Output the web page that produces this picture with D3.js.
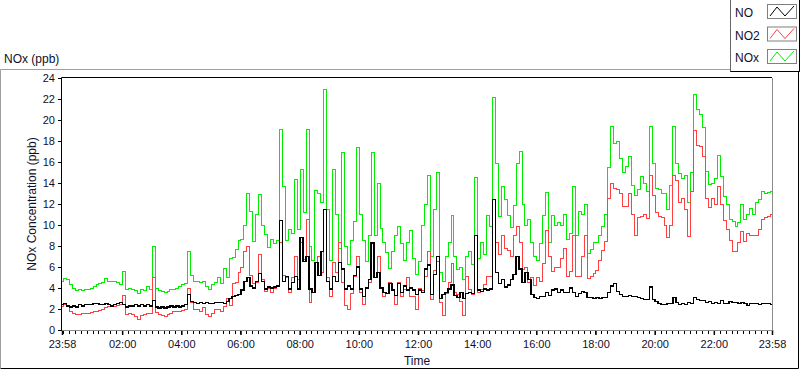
<!DOCTYPE html>
<html>
<head>
<meta charset="utf-8">
<script src="https://cdn.jsdelivr.net/npm/d3@7"></script>
<style>
  body { margin: 0; background: #fff; }
  svg { display: block; font-family: "Liberation Sans", Arial, sans-serif; }
  .tick text { fill: #10102a; }
</style>
</head>
<body>
<div id="chart"></div>
<script>
// readings are every 6 minutes, starting 23:58
var stepMinutes = 6;

var NO = [
  2.4,2.5,2.3,2.2,2.3,2.2,2.4,2.3,2.4,2.4,
  2.4,2.5,2.5,2.4,2.4,2.5,2.4,2.3,2.4,2.5,
  2.6,2.4,2.2,2.3,2.3,2.4,2.3,2.4,2.3,2.4,
  2.3,2.8,2.2,2.1,2.2,2.1,2.2,2.3,2.2,2.3,
  2.2,2.3,2.4,3.4,2.7,2.6,2.5,2.6,2.5,2.6,
  2.5,2.5,2.6,2.6,2.6,2.5,2.7,3.0,3.2,3.3,
  3.4,3.8,4.6,5.0,4.2,4.0,4.6,5.4,4.6,3.9,
  4.1,4.0,4.1,4.2,10.4,4.6,5.1,3.9,4.5,5.1,
  3.9,8.8,6.5,7.0,3.9,3.6,6.4,5.2,7.5,11.5,
  4.6,3.9,5.1,4.6,6.4,5.8,3.9,4.2,3.9,5.2,
  6.0,3.9,3.2,4.0,4.8,8.3,5.0,5.5,4.0,3.6,
  3.5,4.4,3.8,3.3,4.4,3.6,4.2,3.8,4.0,3.8,
  3.4,3.8,3.6,5.8,6.2,3.4,5.3,7.0,3.0,3.4,
  3.6,3.9,4.3,3.3,3.1,3.6,3.0,3.5,3.6,3.5,
  9.0,3.8,3.7,3.9,3.8,3.9,12.4,5.5,4.4,4.8,
  4.1,4.3,4.8,5.3,7.0,5.8,4.5,5.5,4.8,3.4,
  3.1,3.0,3.2,3.2,3.6,3.3,3.8,3.9,3.6,3.8,
  3.6,3.6,4.0,3.6,3.2,3.5,3.7,3.6,3.1,3.1,
  3.0,3.1,3.0,3.1,3.1,3.6,4.2,4.4,3.7,3.4,
  3.2,3.2,3.3,3.2,3.2,3.1,3.0,2.9,2.9,4.1,
  2.9,2.7,2.5,2.45,2.45,2.5,2.5,3.1,2.6,2.45,
  2.5,2.45,2.6,2.5,3.1,2.9,2.8,2.8,2.6,2.7,
  2.5,2.6,2.5,2.8,2.5,2.5,2.7,2.6,2.6,2.5,
  2.6,2.5,2.35,2.5,2.5,2.5,2.4,2.5,2.5,2.55,
  2.45
];

var NO2 = [
  2.2,2.4,2.2,1.8,1.6,1.5,1.5,1.6,1.6,1.6,
  1.7,1.8,1.8,1.9,2.0,2.1,2.2,2.3,2.2,2.3,
  2.4,3.3,1.5,1.6,1.5,1.3,1.0,1.4,1.5,1.6,
  1.6,5.0,1.7,1.5,1.4,1.3,1.5,1.6,1.8,1.8,
  1.8,1.9,2.0,4.0,2.6,2.0,2.0,1.8,2.1,1.5,
  1.3,1.6,2.0,2.0,1.8,2.2,3.0,2.3,4.4,4.5,
  5.5,6.0,7.5,8.0,5.2,4.4,4.5,7.2,4.8,3.7,
  4.0,3.6,4.0,4.2,8.3,5.2,5.0,3.6,5.0,7.0,
  4.8,8.3,6.7,10.5,2.6,3.6,6.4,7.0,5.5,11.5,
  5.0,3.2,6.4,5.5,8.3,4.5,2.3,2.0,3.5,5.1,
  7.0,3.6,2.4,4.0,4.5,8.3,5.0,7.0,4.0,3.2,
  3.5,4.5,3.9,2.4,4.5,3.2,3.9,5.0,3.2,3.2,
  2.0,4.0,3.8,5.1,7.5,2.9,5.7,6.5,2.6,1.4,
  3.5,4.5,6.3,3.6,3.4,2.7,1.4,5.1,3.9,3.4,
  9.0,3.6,3.9,4.3,5.1,5.1,12.4,8.3,7.2,9.0,
  7.8,7.6,7.0,9.0,9.9,8.3,5.8,6.0,4.5,5.0,
  4.2,5.0,4.6,6.3,9.5,7.0,5.6,6.0,6.0,6.8,
  7.8,5.1,5.6,9.0,5.1,5.1,7.0,9.0,4.9,5.1,
  5.4,5.7,6.6,7.6,8.4,12.5,14.0,13.5,13.4,13.0,
  11.8,11.8,13.0,11.0,9.0,10.7,10.8,11.0,10.6,14.7,
  12.8,11.2,10.8,10.7,10.0,8.8,10.0,14.7,14.2,12.1,
  12.5,11.5,8.9,13.2,19.0,17.6,17.5,16.5,12.5,11.7,
  12.5,12.0,13.7,12.0,10.4,9.6,8.5,7.5,7.5,8.3,
  9.4,8.4,9.2,9.0,9.0,9.0,9.6,10.5,10.7,10.8,
  11.0
];

var NOx = [
  4.6,4.9,4.8,4.3,4.0,3.8,3.9,3.8,3.9,3.9,
  4.0,4.1,4.3,4.4,4.5,4.9,4.6,4.6,4.6,4.5,
  4.3,5.6,3.9,4.0,3.9,3.8,3.5,3.9,3.8,4.1,
  3.9,8.0,4.0,3.8,3.7,3.6,3.7,3.9,3.9,4.0,
  4.1,4.3,4.4,7.5,5.2,4.6,4.6,4.5,4.6,4.1,
  3.9,4.3,4.5,5.0,4.4,5.9,5.0,6.8,6.9,7.7,
  8.5,8.6,10.0,13.0,11.3,8.4,11.0,12.9,10.0,9.1,
  7.9,8.6,8.2,8.5,19.1,13.7,8.5,9.6,9.2,14.3,
  9.6,15.3,11.2,19.1,8.0,6.6,13.3,13.0,12.1,22.9,
  11.5,6.6,15.3,11.0,7.8,16.9,8.0,6.2,8.5,10.3,
  17.4,11.0,8.5,6.5,9.0,16.9,9.0,14.0,9.7,8.3,
  7.4,5.9,7.5,9.0,9.9,8.2,6.6,8.3,9.5,6.8,
  5.3,6.5,10.0,12.0,14.7,7.0,11.5,15.0,5.5,4.6,
  7.0,8.3,10.9,7.0,5.8,6.0,4.8,7.0,7.5,6.2,
  14.5,6.8,8.3,7.2,10.9,9.9,22.1,15.9,10.8,13.7,
  12.4,10.9,9.8,11.9,15.9,17.0,12.0,10.0,10.5,8.3,
  7.0,6.6,8.2,10.9,13.1,8.3,10.9,10.0,10.2,10.0,
  11.0,8.6,9.2,13.7,9.0,11.3,11.0,12.0,7.3,7.7,
  8.3,8.3,9.0,9.9,11.0,15.5,19.4,17.8,18.0,16.3,
  15.0,15.6,16.5,13.8,12.8,13.4,14.6,14.0,13.2,19.4,
  15.9,13.5,13.4,13.0,13.0,11.5,13.8,19.4,15.9,14.9,
  14.4,14.7,12.1,15.0,22.4,21.0,20.5,19.3,15.1,13.9,
  14.0,14.4,16.6,14.6,12.7,12.0,10.5,10.3,9.9,10.2,
  12.0,10.5,11.0,11.6,11.0,12.1,12.4,13.2,13.0,13.1,
  13.2
];

var seriesNames = ['NO', 'NO2', 'NOx'];
var seriesColors = ['#000000', '#ff4040', '#00ee00'];
var yTicks = [0, 2, 4, 6, 8, 10, 12, 14, 16, 18, 20, 22, 24];
var xTickLabels = ['23:58', '02:00', '04:00', '06:00', '08:00', '10:00', '12:00',
                   '14:00', '16:00', '18:00', '20:00', '22:00', '23:58'];

var w = 800, h = 369;
// plot area edges
var pL = 62, pR = 772, pT = 78, pB = 330;

var start = new Date(2000, 0, 1, 23, 58);
var end = d3.timeMinute.offset(start, 24 * 60);

var xScale = d3.scaleTime().domain([start, end]).range([pL, pR]);
var yScale = d3.scaleLinear().domain([0, 24]).range([pB, pT]);

var svg = d3.select('#chart').append('svg')
  .attr('width', w)
  .attr('height', h);

// outer frame (sunken look)
svg.append('path')
  .attr('d', 'M0.5,368 V69.5 H799')
  .attr('fill', 'none').attr('stroke', '#a0a0a0');
svg.append('path')
  .attr('d', 'M0.5,368.5 H798.5 V69.5')
  .attr('fill', 'none').attr('stroke', '#000');

// title
svg.append('text')
  .attr('x', 4).attr('y', 63)
  .attr('font-size', '12px')
  .attr('fill', '#10102a')
  .text('NOx (ppb)');

//turn the tick labels into dates on the time scale
var xTickDates = xTickLabels.map(function(d, i) {
  if (i == 0) return start;
  if (i == xTickLabels.length - 1) return end;
  var p = d.split(':');
  return new Date(2000, 0, 2, +p[0], +p[1]);
});

// minor ticks every 12 minutes
var minor = d3.timeMinute.every(12).range(start, end);
svg.append('g')
  .attr('transform', 'translate(0,' + pB + ')')
  .call(d3.axisBottom(xScale).tickValues(minor).tickSize(4).tickFormat(''))
  .call(function(g) { g.select('.domain').remove(); })
  .selectAll('line').attr('stroke', '#000').attr('shape-rendering', 'crispEdges');

svg.append('g')
  .attr('transform', 'translate(0,' + pB + ')')
  .call(d3.axisBottom(xScale).tickValues(xTickDates).tickSize(5).tickPadding(5)
    .tickFormat(function(d, i) { return xTickLabels[i]; }))
  .call(function(g) { g.select('.domain').remove(); })
  .call(function(g) {
    g.selectAll('line').attr('stroke', '#000').attr('stroke-width', 1.5);
    g.selectAll('text').attr('font-size', '11px').attr('font-family', '"Liberation Sans", Arial, sans-serif');
  });

svg.append('g')
  .attr('transform', 'translate(' + pL + ',0)')
  .call(d3.axisLeft(yScale).tickValues(yTicks).tickSize(4).tickPadding(3))
  .call(function(g) { g.select('.domain').remove(); })
  .call(function(g) {
    g.selectAll('line').attr('stroke', '#000').attr('shape-rendering', 'crispEdges');
    g.selectAll('text').attr('font-size', '11px').attr('font-family', '"Liberation Sans", Arial, sans-serif');
  });

// axis titles
svg.append('text')
  .attr('transform', 'translate(36,' + ((pT + pB) / 2) + ') rotate(-90)')
  .attr('text-anchor', 'middle')
  .attr('font-size', '12px')
  .attr('fill', '#10102a')
  .text('NOx Concentration (ppb)');

svg.append('text')
  .attr('x', (pL + pR) / 2).attr('y', 365)
  .attr('text-anchor', 'middle')
  .attr('font-size', '12px')
  .attr('fill', '#10102a')
  .text('Time');

// series, green first so black ends on top; stepped like the original plot
var allSeries = [NO, NO2, NOx];
var line = d3.line()
  .x(function(d, i) { return xScale(d3.timeMinute.offset(start, i * stepMinutes)); })
  .y(function(d) { return yScale(d); })
  .curve(d3.curveStep);

var plots = svg.append('g');
[2, 1, 0].forEach(function(k) {
  plots.append('path')
    .datum(allSeries[k])
    .attr('d', line)
    .attr('fill', 'none')
    .attr('stroke', seriesColors[k])
    .attr('stroke-width', k == 0 ? 1.3 : 1)
    .attr('shape-rendering', 'crispEdges');
});

// plot border: dark top/left, grey bottom/right
svg.append('path')
  .attr('d', 'M' + (pL - 0.5) + ',' + pB + ' V' + (pT - 0.5) + ' H' + pR)
  .attr('fill', 'none').attr('stroke', '#000');
svg.append('path')
  .attr('d', 'M' + pL + ',' + (pB + 0.5) + ' H' + (pR + 0.5) + ' V' + pT)
  .attr('fill', 'none').attr('stroke', '#8c8c8c');

// legend
var lg = svg.append('g');
lg.append('rect')
  .attr('x', 730.5).attr('y', -1)
  .attr('width', 70).attr('height', 72.5)
  .attr('fill', '#fff').attr('stroke', '#666');
lg.append('path')
  .attr('d', 'M730.5,71.5 H799.5 V0')
  .attr('fill', 'none').attr('stroke', '#000');

seriesNames.forEach(function(nm, i) {
  var y0 = 4 + i * 22.5;
  lg.append('text')
    .attr('x', 735).attr('y', y0 + 13)
    .attr('font-size', '12px')
    .attr('fill', '#10102a')
    .text(nm);
  lg.append('rect')
    .attr('x', 767.5).attr('y', y0 + 0.5)
    .attr('width', 29).attr('height', 14)
    .attr('fill', '#fff').attr('stroke', '#808080');
  lg.append('path')
    .attr('d', 'M770,' + (y0 + 12) + ' L777,' + (y0 + 3) + ' L785,' + (y0 + 12) + ' L794,' + (y0 + 2))
    .attr('fill', 'none')
    .attr('stroke', seriesColors[i]);
});
</script>
</body>
</html>
